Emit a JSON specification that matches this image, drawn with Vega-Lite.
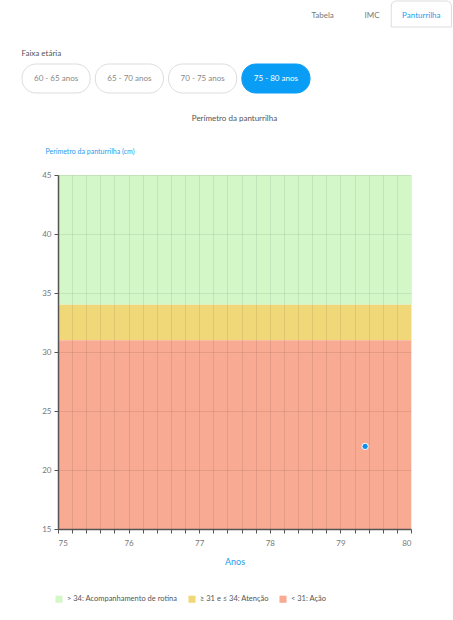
{
  "$schema": "https://vega.github.io/schema/vega-lite/v6.json",
  "padding": 0,
  "background": "white",
  "spacing": 21,
  "resolve": {"scale": {"x": "independent", "y": "independent", "color": "independent", "fill": "independent", "stroke": "independent"}},
  "config": {
    "font": "Lato",
    "view": {"stroke": null},
    "title": {"font": "Lato", "fontWeight": "normal", "fontSize": 8, "color": "#555555"}
  },
  "vconcat": [
    {
      "width": 353,
      "height": 26,
      "data": {"values": [
        {"aba": "Tabela", "situacao": "inativa"},
        {"aba": "IMC", "situacao": "inativa"},
        {"aba": "Panturrilha", "situacao": "ativa"}
      ]},
      "encoding": {
        "x": {"field": "aba", "type": "nominal", "sort": null,
              "scale": {"domain": ["Tabela", "IMC", "Panturrilha"], "range": [240, 388], "paddingInner": 0, "paddingOuter": 0}, "axis": null}
      },
      "layer": [
        {
          "transform": [{"filter": "datum.situacao === 'ativa'"}],
          "mark": {"type": "bar", "width": {"band": 1.22}, "fill": "white", "stroke": "#dddddd", "strokeWidth": 1,
                   "cornerRadiusTopLeft": 5, "cornerRadiusTopRight": 5}
        },
        {
          "mark": {"type": "text", "fontSize": 8, "font": "Lato", "dy": 2},
          "encoding": {
            "text": {"field": "aba"},
            "color": {"field": "situacao", "type": "nominal",
                      "scale": {"domain": ["inativa", "ativa"], "range": ["#777777", "#1e9bf0"]}, "legend": null}
          }
        }
      ]
    },
    {
      "width": 353,
      "height": 29,
      "title": {"text": "Faixa etária", "anchor": "start", "offset": 6, "color": "#555555"},
      "data": {"values": [
        {"faixa": "60 - 65 anos", "estado": "inativa"},
        {"faixa": "65 - 70 anos", "estado": "inativa"},
        {"faixa": "70 - 75 anos", "estado": "inativa"},
        {"faixa": "75 - 80 anos", "estado": "ativa"}
      ]},
      "encoding": {
        "x": {"field": "faixa", "type": "nominal", "sort": null,
              "scale": {"domain": ["60 - 65 anos", "65 - 70 anos", "70 - 75 anos", "75 - 80 anos"], "range": [-36, 252], "paddingInner": 0.07, "paddingOuter": 0}, "axis": null}
      },
      "layer": [
        {
          "mark": {"type": "bar", "cornerRadius": 14, "strokeWidth": 1},
          "encoding": {
            "fill": {"field": "estado", "type": "nominal",
                     "scale": {"domain": ["inativa", "ativa"], "range": ["#ffffff", "#0a9df5"]}, "legend": null},
            "stroke": {"field": "estado", "type": "nominal",
                       "scale": {"domain": ["inativa", "ativa"], "range": ["#dddddd", "#0a9df5"]}, "legend": null}
          }
        },
        {
          "mark": {"type": "text", "fontSize": 8},
          "encoding": {
            "text": {"field": "faixa"},
            "color": {"field": "estado", "type": "nominal",
                      "scale": {"domain": ["inativa", "ativa"], "range": ["#888888", "#ffffff"]}, "legend": null}
          }
        }
      ]
    },
    {
      "width": 353,
      "height": 354,
      "title": {"text": "Perímetro da panturrilha", "anchor": "middle", "offset": 24},
      "layer": [
        {
          "data": {"values": [
            {"zona": "> 34: Acompanhamento de rotina", "min": 34, "max": 45},
            {"zona": "≥ 31 e ≤ 34: Atenção", "min": 31, "max": 34},
            {"zona": "< 31: Ação", "min": 15, "max": 31}
          ]},
          "mark": {"type": "rect"},
          "encoding": {
            "y": {"field": "min", "type": "quantitative",
                  "scale": {"domain": [15, 45], "nice": false, "zero": false},
                  "axis": {"values": [15, 20, 25, 30, 35, 40, 45], "grid": true, "gridColor": "#000000", "gridOpacity": 0.08,
                           "domainColor": "#555555", "domainWidth": 1.5, "tickColor": "#555555", "tickSize": 4,
                           "labelFontSize": 8, "labelColor": "#777777", "labelPadding": 3, "zindex": 1,
                           "minExtent": 58,
                           "title": "Perímetro da panturrilha (cm)", "titleAngle": 0, "titleAlign": "left",
                           "titleBaseline": "middle", "titleX": -13, "titleY": -24, "titleColor": "#1e9bf0",
                           "titleFontSize": 7, "titleFontWeight": "normal"}},
            "y2": {"field": "max"},
            "fill": {"field": "zona", "type": "nominal", "sort": null,
                     "scale": {"domain": ["> 34: Acompanhamento de rotina", "≥ 31 e ≤ 34: Atenção", "< 31: Ação"],
                               "range": ["#d4f7c8", "#f0d778", "#f8aa92"]},
                     "legend": {"orient": "none", "legendX": -3, "legendY": 420, "direction": "horizontal",
                                "title": null, "symbolType": "square", "symbolSize": 50, "symbolStrokeWidth": 0,
                                "labelFontSize": 7.5, "labelColor": "#555555", "columnPadding": 10, "labelOffset": 4}}
          }
        },
        {
          "data": {"values": [{"ano": 79.35, "perimetro": 22}]},
          "mark": {"type": "point", "filled": true, "size": 40, "fill": "#0c8fe8", "stroke": "white", "strokeWidth": 1, "opacity": 1},
          "encoding": {
            "x": {"field": "ano", "type": "quantitative",
                  "scale": {"domain": [75, 80], "nice": false, "zero": false},
                  "axis": {"tickCount": 20,
                           "labelExpr": "datum.value % 1 === 0 ? format(datum.value, 'd') : ''",
                           "grid": true, "gridColor": "#000000", "gridOpacity": 0.08,
                           "domainColor": "#555555", "domainWidth": 1.5, "tickColor": "#555555", "tickSize": 4,
                           "labelFontSize": 8, "labelColor": "#777777", "labelPadding": 6, "zindex": 1,
                           "title": "Anos", "titleColor": "#1e9bf0", "titleFontSize": 9, "titleFontWeight": "normal", "titlePadding": 10}},
            "y": {"field": "perimetro", "type": "quantitative"}
          }
        }
      ]
    }
  ]
}
